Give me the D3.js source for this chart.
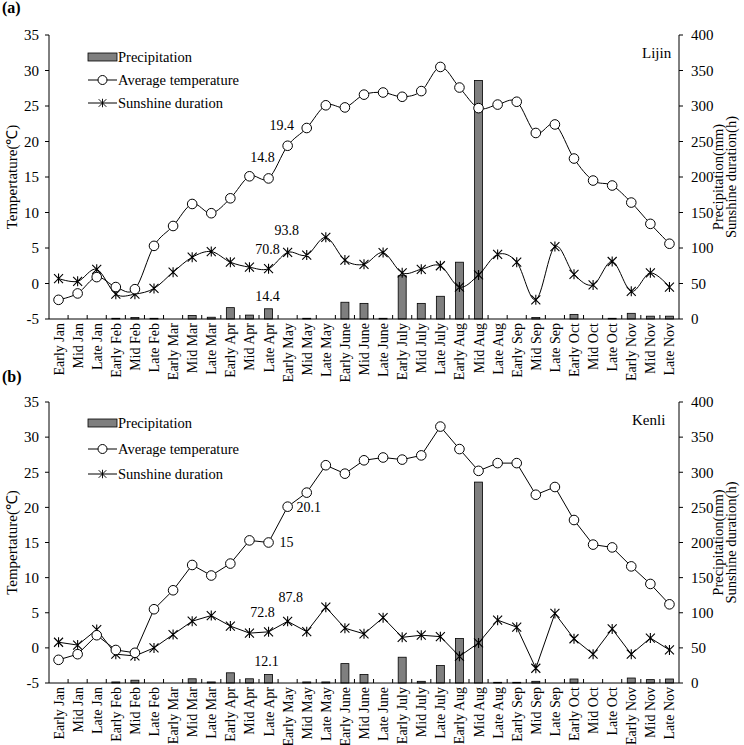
<!DOCTYPE html>
<html>
<head>
<meta charset="utf-8">
<script src="https://cdn.jsdelivr.net/npm/d3@7"></script>
<style>
html,body{margin:0;padding:0;background:#fff;}
svg{display:block;font-family:"Liberation Serif","Times New Roman",serif;}
</style>
</head>
<body>
<svg id="chart" width="744" height="745"></svg>
<script>
const categories = ["Early Jan","Mid Jan","Late Jan","Early Feb","Mid Feb","Late Feb","Early Mar","Mid Mar","Late Mar","Early Apr","Mid Apr","Late Apr","Early May","Mid May","Late May","Early June","Mid June","Late June","Early July","Mid July","Late July","Early Aug","Mid Aug","Late Aug","Early Sep","Mid Sep","Late Sep","Early Oct","Mid Oct","Late Oct","Early Nov","Mid Nov","Late Nov"];

const tempTicks = [-5,0,5,10,15,20,25,30,35];
const rightTicks = [0,50,100,150,200,250,300,350,400];

// Panel (a) Lijin
const tempLijin = [-2.3,-1.4,0.9,-0.5,-0.8,5.3,8.1,11.2,9.9,12.0,15.1,14.8,19.4,21.9,25.1,24.8,26.6,26.9,26.3,27.1,30.5,27.6,24.7,25.2,25.6,21.2,22.4,17.6,14.5,13.8,11.4,8.4,5.6];
const sunLijin = [57,53,70,35,35,43,66,87,95,80,73,70.8,93.8,90,115,83,77,93.5,65,70,75,45,62,91,80,27,102,63,48,81,39,65,45];
const precLijin = [0,0,0,1,2,1,0,5,2.5,16,5.5,14.4,0,1,0,23.6,22,1,61,22,32,80,336,0,0,2,0,6.5,0,1,8,4,4];

// Panel (b) Kenli
const tempKenli = [-1.7,-0.9,1.8,-0.3,-0.7,5.5,8.2,11.8,10.3,12.0,15.3,15.0,20.1,22.1,26.0,24.8,26.7,27.1,26.8,27.4,31.5,28.3,25.2,26.3,26.3,21.8,22.9,18.2,14.7,14.3,11.6,9.1,6.2];
const sunKenli = [58,54,76,41,38.5,50,69,88,96,81,71,72.8,87.8,73,108,78,70,93,65,68,66,38,57,89.5,79.5,21,99,63,41,77,41,64,47];
const precKenli = [0,0,0,1.5,4,0,0,6,1.5,14.5,6,12.1,0,1.5,1.5,27.6,12,0,36.7,2.4,24.8,63.3,286,1,1,2.4,0,5.7,0,0,7.1,4.8,5.7];

const legendLabels = ["Precipitation","Average temperature","Sunshine duration"];

const svg = d3.select("#chart");

function drawPanel(opt){
  const g = svg.append("g");
  const left = 49, right = 679, top = opt.top, bottom = opt.bottom;
  const x = d3.scaleBand().domain(categories).range([left,right]);
  const yT = d3.scaleLinear().domain([-5,35]).range([bottom,top]);
  const yR = d3.scaleLinear().domain([0,400]).range([bottom,top]);
  const bw = x.bandwidth();
  const cx = d => x(d) + bw/2;

  // bars
  const barW = 8;
  g.selectAll("rect.bar").data(categories.map((c,i)=>({c,v:opt.prec[i]})).filter(d=>d.v>0))
    .enter().append("rect")
    .attr("x", d=>cx(d.c)-barW/2)
    .attr("y", d=>yR(d.v))
    .attr("width", barW)
    .attr("height", d=>yR(0)-yR(d.v))
    .attr("fill","#7f7f7f").attr("stroke","#000").attr("stroke-width",0.8);

  const curve = opt.smooth ? d3.curveCardinal.tension(0) : d3.curveLinear;

  // sunshine line
  const sunLine = d3.line().x((d,i)=>cx(categories[i])).y(d=>yR(d)).curve(curve);
  g.append("path").attr("d", sunLine(opt.sun)).attr("fill","none").attr("stroke","#000").attr("stroke-width",1);
  // temp line
  const tLine = d3.line().x((d,i)=>cx(categories[i])).y(d=>yT(d)).curve(curve);
  g.append("path").attr("d", tLine(opt.temp)).attr("fill","none").attr("stroke","#000").attr("stroke-width",1);

  // star markers
  const s = 4.5;
  const starPath = `M${-s},${-s}L${s},${s}M${-s},${s}L${s},${-s}M0,${-s-0.5}L0,${s+0.5}`;
  g.selectAll("path.star").data(opt.sun).enter().append("path")
    .attr("d", starPath)
    .attr("transform",(d,i)=>`translate(${cx(categories[i])},${yR(d)})`)
    .attr("fill","none").attr("stroke","#000").attr("stroke-width",1.1);

  // circle markers
  g.selectAll("circle.t").data(opt.temp).enter().append("circle")
    .attr("cx",(d,i)=>cx(categories[i])).attr("cy",d=>yT(d)).attr("r",4.8)
    .attr("fill","#fff").attr("stroke","#000").attr("stroke-width",1);

  // axes lines
  const ax = g.append("g").attr("stroke","#000").attr("stroke-width",1);
  ax.append("line").attr("x1",left).attr("x2",left).attr("y1",top).attr("y2",bottom);
  ax.append("line").attr("x1",right).attr("x2",right).attr("y1",top).attr("y2",bottom);
  ax.append("line").attr("x1",left).attr("x2",right).attr("y1",bottom).attr("y2",bottom);

  // left ticks
  tempTicks.forEach(t=>{
    ax.append("line").attr("x1",left-4).attr("x2",left).attr("y1",yT(t)).attr("y2",yT(t));
    g.append("text").attr("x",left-10).attr("y",yT(t)).attr("dy","0.35em")
      .attr("text-anchor","end").attr("font-size",15).text(t);
  });
  // right ticks
  rightTicks.forEach(t=>{
    ax.append("line").attr("x1",right).attr("x2",right+4).attr("y1",yR(t)).attr("y2",yR(t));
    g.append("text").attr("x",right+12).attr("y",yR(t)).attr("dy","0.35em")
      .attr("text-anchor","start").attr("font-size",15).text(t);
  });
  // x ticks (inside, at band boundaries)
  categories.forEach((c,i)=>{
    if(i>0) ax.append("line").attr("x1",x(c)).attr("x2",x(c)).attr("y1",bottom).attr("y2",bottom-4);
    g.append("text").attr("transform",`translate(${cx(c)+5},${bottom+4}) rotate(-90)`)
      .attr("text-anchor","end").attr("font-size",14).text(c);
  });

  // axis titles
  const mid = (top+bottom)/2;
  g.append("text").attr("transform",`translate(17,${mid}) rotate(-90)`)
    .attr("text-anchor","middle").attr("font-size",15).text("Tempertature(℃)");
  g.append("text").attr("transform",`translate(723,${mid}) rotate(-90)`)
    .attr("text-anchor","middle").attr("font-size",14.5).text("Precipitation(mm)");
  g.append("text").attr("transform",`translate(736,${mid}) rotate(-90)`)
    .attr("text-anchor","middle").attr("font-size",14.5).text("Sunshine duration(h)");

  // panel label & site name
  svg.append("text").attr("x",2).attr("y",opt.labelY).attr("font-size",16).attr("font-weight","bold").text(opt.label);
  g.append("text").attr("x",opt.siteX).attr("y",opt.siteY).attr("font-size",15).text(opt.site);

  // legend
  const lg = g.append("g");
  const ly = opt.legendY, ls = opt.legendStep;
  lg.append("rect").attr("x",88).attr("y",ly[0]-4).attr("width",29).attr("height",8)
    .attr("fill","#7f7f7f").attr("stroke","#000").attr("stroke-width",0.8);
  lg.append("line").attr("x1",88).attr("x2",117).attr("y1",ly[1]).attr("y2",ly[1]).attr("stroke","#000");
  lg.append("circle").attr("cx",102.5).attr("cy",ly[1]).attr("r",4.5).attr("fill","#fff").attr("stroke","#000");
  lg.append("line").attr("x1",88).attr("x2",117).attr("y1",ly[2]).attr("y2",ly[2]).attr("stroke","#000");
  lg.append("path").attr("d",starPath).attr("transform",`translate(102.5,${ly[2]}) scale(0.85)`).attr("fill","none").attr("stroke","#000").attr("stroke-width",1.1);
  legendLabels.forEach((l,i)=>{
    lg.append("text").attr("x",118).attr("y",ly[i]).attr("dy","0.33em").attr("font-size",14.5).text(l);
  });

  // annotations
  opt.notes.forEach(n=>{
    const i = categories.indexOf(n.cat);
    let yy;
    if(n.series==="temp") yy = yT(opt.temp[i]);
    else if(n.series==="sun") yy = yR(opt.sun[i]);
    else yy = yR(opt.prec[i]);
    g.append("text").attr("x",cx(n.cat)+n.dx).attr("y",yy+n.dy).attr("dy","0.35em")
      .attr("text-anchor","middle").attr("font-size",14).text(n.text);
  });
}

drawPanel({
  top:35, bottom:319, temp:tempLijin, sun:sunLijin, prec:precLijin, smooth:true,
  label:"(a)", labelY:13, site:"Lijin", siteX:642, siteY:58,
  legendY:[57,80,103], legendStep:23,
  notes:[
    {cat:"Early May",series:"temp",text:"19.4",dx:-6,dy:-21},
    {cat:"Late Apr",series:"temp",text:"14.8",dx:-6,dy:-21},
    {cat:"Early May",series:"sun",text:"93.8",dx:-1,dy:-22},
    {cat:"Late Apr",series:"sun",text:"70.8",dx:-1,dy:-20},
    {cat:"Late Apr",series:"prec",text:"14.4",dx:-1,dy:-13}
  ]
});

drawPanel({
  top:402, bottom:683, temp:tempKenli, sun:sunKenli, prec:precKenli, smooth:false,
  label:"(b)", labelY:382, site:"Kenli", siteX:632, siteY:425,
  legendY:[423,449,474], legendStep:25,
  notes:[
    {cat:"Early May",series:"temp",text:"20.1",dx:21,dy:0},
    {cat:"Late Apr",series:"temp",text:"15",dx:18,dy:0},
    {cat:"Early May",series:"sun",text:"87.8",dx:3,dy:-24},
    {cat:"Late Apr",series:"sun",text:"72.8",dx:-6,dy:-20},
    {cat:"Late Apr",series:"prec",text:"12.1",dx:-2,dy:-13}
  ]
});
</script>
</body>
</html>
